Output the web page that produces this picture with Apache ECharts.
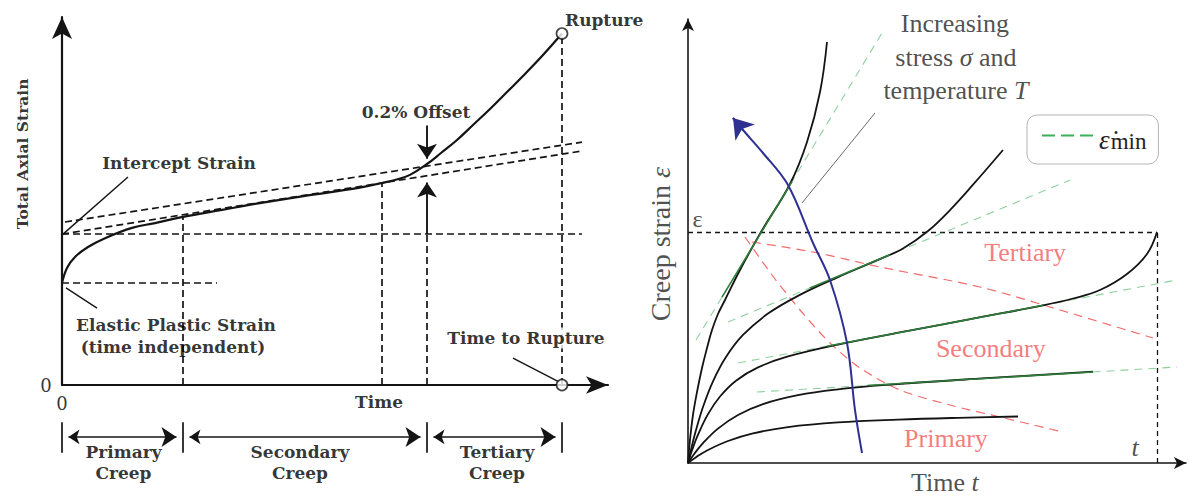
<!DOCTYPE html>
<html>
<head>
<meta charset="utf-8">
<script src="https://cdn.jsdelivr.net/npm/echarts@6/dist/echarts.min.js"></script>
<style>
  html, body { margin: 0; padding: 0; background: #fff; }
  #main { width: 1193px; height: 497px; }
</style>
</head>
<body>
<div id="main"></div>
<script>
// ===== Left diagram: total axial strain (0-100) against time (0-109.2) =====
const strainCurve = [[0,27.7],[1,31.8],[2.6,34.8],[5.2,37.5],[8.6,39.9],[14,42.7],[18.6,44],[24.2,45.7],
  [32,47.6],[38.6,49.2],[48.6,51.4],[59,53.5],[64,54.9],[66.6,55.7],[69.6,57.1],[73,60.05],
  [75.8,63.04],[79,66.58],[82.2,70.65],[85.6,75.0],[89,79.62],[92.2,83.97],[96.2,89.67],[100,95.5]];
const elasticStrain = 27.7;
const interceptStrain = 41;
const secondaryLine = [[0,41],[104,63.6]];
const offsetLine = [[0.6,44.3],[104,66]];
const stageBounds = [0, 24.2, 73, 100];      // primary | secondary | tertiary | rupture
const tangentEndTime = 64;
const ruptureTime = 100;
const ruptureStrain = 95.5;
const offsetArrowUp = [41, 55];
const offsetArrowDown = [70.5, 61.5];
const stageNames = ['Primary\nCreep', 'Secondary\nCreep', 'Tertiary\nCreep'];

// ===== Right diagram: creep strain (0-100) against time (0-100) =====
const creepCurves = [
  [[0,0],[1.61,1.31],[4.02,2.93],[8.03,4.95],[13.05,6.67],[20.08,8.09],[30.12,9.14],[42.17,9.77],
   [54.22,10.18],[66.27,10.47]],
  [[0,0],[1.2,1.98],[3.01,4.48],[6.02,7.75],[10.04,10.81],[15.06,13.27],[22.09,15.27],[30.12,16.58],
   [40.16,17.61],[58.23,18.99],[81.33,20.56]],
  [[0,0],[0.8,2.82],[2.01,6.37],[4.02,11.01],[6.43,14.98],[9.64,18.54],[14.06,21.53],[20.08,23.99],
   [30.12,26.67],[44.18,29.75],[58.23,32.73],[71.29,35.5],[77.31,37.05],[82.73,38.96],[88.15,42.57],
   [92.17,47.07],[94.18,52.03]],
  [[0,0],[0.6,3.0],[1.61,7.41],[3.01,12.61],[5.02,18.4],[7.63,23.87],[11.04,28.83],[16.06,33.65],
   [22.09,37.64],[30.12,41.87],[38.15,45.74],[43.17,48.31],[48.19,52.25],[52.61,56.98],[57.23,62.68],
   [63.25,70.5]],
  [[0,0],[0.4,5.18],[1,10.81],[1.81,15.99],[2.81,21.4],[3.82,25.9],[4.82,29.95],[6.02,33.56],[7.43,36.71],
   [10.44,43.47],[14.66,52.03],[20.48,62.84],[23.9,72.3],[26.51,83.56],[27.91,94.82]]
];
const minRateLines = [
  [[13.86,15.99],[98.19,21.62]],
  [[10.04,22.52],[98.19,41.22]],
  [[8.03,31.76],[76.71,63.74]],
  [[1.61,27.7],[38.96,96.85]]
];
const minRateSpans = [
  [[36,17.47],[81.33,20.49]],
  [[27.91,26.31],[71.29,35.51]],
  [[24.5,39.43],[40.56,46.91]],
  [[6.83,37.36],[20.88,63.37]]
];
const primaryBoundary = [[11.45,50.9],[16.87,42.34],[22.49,34.46],[28.51,27.03],[34.54,21.4],[42.57,16.44],
  [52.61,13.06],[62.65,10.36],[75.3,6.98]];
const tertiaryBoundary = [[12.85,49.77],[25.1,47.52],[38.55,44.14],[58.63,39.64],[74.7,34.46],[93.37,28.15]];
const loadingTrend = [[34.94,2.25],[33.53,11.94],[31.93,27.03],[28.51,41.22],[25.1,49.55],[20.08,62.61],
  [15.06,69.82],[11.04,75]];
const loadingTrendTip = [9.04,77.7];
const ruptureLevel = 52.03;
const ruptureTimeRight = 94.18;
const stageWords = ['Tertiary', 'Secondary', 'Primary'];

// ---------- helpers ----------
const LEFT = { xAxisIndex: 0, yAxisIndex: 0 };
const RIGHT = { xAxisIndex: 1, yAxisIndex: 1 };
const INK = '#141414';

function path(axes, data, color, width, type, smooth, z, name) {
  return Object.assign({
    type: 'line', name: name || undefined, data, symbol: 'none', showSymbol: false,
    smooth: smooth || false, silent: true, clip: false, animation: false,
    lineStyle: { color, width, type: type || 'solid', cap: 'butt' }, z: z || 2
  }, axes);
}
function segs(axes, list, color, width, type, arrows, size, z) {
  return Object.assign({
    type: 'lines', coordinateSystem: 'cartesian2d', silent: true, clip: false, animation: false,
    symbol: arrows || ['none', 'none'], symbolSize: size || 8,
    lineStyle: { color, width, type: type || 'solid', opacity: 1, curveness: 0 },
    data: list.map(c => ({ coords: c })), z: z || 2
  }, axes);
}
function notes(axes, items, base) {
  return Object.assign({
    type: 'scatter', silent: true, clip: false, animation: false, symbolSize: 1,
    itemStyle: { color: 'transparent' }, z: 10,
    label: Object.assign({ show: true, position: 'inside', formatter: p => p.name }, base),
    data: items.map(it => ({ name: it.text, value: it.at, label: it.label || {} }))
  }, axes);
}
const curveAt = t => strainCurve.find(p => p[0] === t)[1];

// ---------- left diagram marks ----------
const leftFont = { fontFamily: 'DejaVu Serif', fontWeight: 'bold', fontSize: 17, color: '#000' };
const dashL = [7, 4];
const leftSeries = [
  segs(LEFT, [
    [[0, interceptStrain], [104, interceptStrain]],
    [[0, elasticStrain], [31, elasticStrain]],
    [[stageBounds[1], 0], [stageBounds[1], curveAt(stageBounds[1])]],
    [[tangentEndTime, 0], [tangentEndTime, curveAt(tangentEndTime)]],
    [[stageBounds[2], 0], [stageBounds[2], interceptStrain]],
    [[ruptureTime, 0], [ruptureTime, ruptureStrain]]
  ], INK, 1.7, dashL),
  path(LEFT, secondaryLine, INK, 1.7, dashL),
  path(LEFT, offsetLine, INK, 1.7, dashL),
  path(LEFT, strainCurve, INK, 2.2, 'solid', 0.4, 4),
  segs(LEFT, [
    [[stageBounds[2], offsetArrowUp[0]], [stageBounds[2], offsetArrowUp[1]]],
    [[stageBounds[2], offsetArrowDown[0]], [stageBounds[2], offsetArrowDown[1]]]
  ], INK, 1.9, 'solid', ['none', 'arrow'], [11, 15], 5),
  // leader lines
  segs(LEFT, [
    [[13.2, 56.5], [0.2, 41]],
    [[7, 20.9], [0.8, 26.4]],
    [[90.2, 7.3], [99.2, 1]]
  ], INK, 1.4),
  // stage dimension row under the time axis
  segs(LEFT, stageBounds.map(t => [[t, -10.1], [t, -18.4]]), INK, 1.7),
  segs(LEFT, stageBounds.slice(0, 3).map((t, i) => [[t + 1.3, -14.1], [stageBounds[i + 1] - 1.3, -14.1]]),
    INK, 1.7, 'solid', ['arrow', 'arrow'], [11, 15]),
  Object.assign({
    type: 'scatter', silent: true, clip: false, animation: false, symbol: 'circle', symbolSize: 11,
    itemStyle: { color: '#fff', borderColor: INK, borderWidth: 1.7 }, z: 6,
    data: [[ruptureTime, ruptureStrain], [ruptureTime, 0]]
  }, LEFT),
  notes(LEFT, [
    { text: 'Total Axial Strain', at: [-8, 62.8], label: { rotate: 90, fontSize: 15.5 } },
    { text: 'Intercept Strain', at: [23.4, 60.3] },
    { text: 'Elastic Plastic Strain', at: [22.8, 16.3] },
    { text: '(time independent)', at: [22.2, 10.3] },
    { text: '0', at: [-3.2, 0], label: { fontWeight: 'normal', fontSize: 18 } },
    { text: '0', at: [0, -4.9], label: { fontWeight: 'normal', fontSize: 18 } },
    { text: 'Time', at: [63.4, -4.6] },
    { text: '0.2% Offset', at: [70.8, 74.2] },
    { text: 'Rupture', at: [100.6, 99.2], label: { align: 'left' } },
    { text: 'Time to Rupture', at: [92.8, 12.8], label: { backgroundColor: '#fff' } },
    { text: stageNames[0], at: [12.3, -21.1] },
    { text: stageNames[1], at: [47.6, -21.1] },
    { text: stageNames[2], at: [87, -21.1] }
  ], Object.assign({ lineHeight: 21, align: 'center' }, leftFont))
];

// ---------- right diagram marks ----------
const serif = 'Liberation Serif';
const redInk = '#f25a5a';
const rightSeries = [
  path(RIGHT, primaryBoundary, '#f36b6b', 1.2, [9, 6], 0.3),
  path(RIGHT, tertiaryBoundary, '#f36b6b', 1.2, [9, 6], 0.3),
  ...minRateLines.map(l => path(RIGHT, l, '#8ed19c', 1.1, [8, 6], false, 2, 'ε\u0307min')),
  ...creepCurves.map(c => path(RIGHT, c, INK, 1.8, 'solid', 0.4, 4)),
  segs(RIGHT, minRateSpans, '#2f7d3a', 1.6, 'solid', null, 8, 5),
  segs(RIGHT, [[[0, ruptureLevel], [ruptureTimeRight, ruptureLevel]], [[ruptureTimeRight, 0], [ruptureTimeRight, ruptureLevel]]],
    INK, 1.3, [5, 4]),
  path(RIGHT, loadingTrend.concat([loadingTrendTip]), '#2e3192', 2, 'solid', 0.35, 6),
  segs(RIGHT, [[loadingTrend[loadingTrend.length - 1], loadingTrendTip]], '#2e3192', 2, 'solid', ['none', 'arrow'], [14, 19], 6),
  segs(RIGHT, [[[22.89, 58.56], [37.55, 78.83]]], '#6a6a6a', 1),
  notes(RIGHT, [
    { text: 'ε', at: [1.9, 55.0], label: { formatter: '{s|ε}' } },
    { text: 'Creep strain ε', at: [-5.62, 49.3], label: { rotate: 90, formatter: '{c|Creep strain }{ci|ε}' } },
    { text: 'Time t', at: [51.6, -4.5], label: { formatter: '{a|Time }{i|t}' } },
    { text: 't', at: [89.8, 3.4], label: { formatter: '{i|t}' } },
    { text: 'Increasing', at: [53.6, 98.9] },
    { text: 'stress σ and', at: [53.8, 91.4], label: { formatter: '{a|stress }{i|σ}{a| and}' } },
    { text: 'temperature T', at: [53.8, 84.0], label: { formatter: '{a|temperature }{i|T}' } },
    { text: stageWords[0], at: [67.7, 47.3], label: { color: redInk } },
    { text: stageWords[1], at: [60.8, 25.9], label: { color: redInk } },
    { text: stageWords[2], at: [51.8, 5.6], label: { color: redInk } }
  ], {
    fontFamily: serif, fontSize: 26, color: '#222',
    rich: {
      a: { fontFamily: serif, fontSize: 26, color: '#222' },
      i: { fontFamily: serif, fontSize: 26, fontStyle: 'italic', color: '#222' },
      c: { fontFamily: serif, fontSize: 28, color: '#222' },
      ci: { fontFamily: serif, fontSize: 28, fontStyle: 'italic', color: '#222' },
      s: { fontFamily: serif, fontSize: 24, color: '#222' }
    }
  })
];

const hiddenAxis = (gridIndex, max, arrowSize, width) => ({
  gridIndex, type: 'value', min: 0, max,
  axisLine: { show: true, onZero: false, symbol: ['none', 'arrow'], symbolSize: arrowSize,
    lineStyle: { color: INK, width } },
  axisTick: { show: false }, axisLabel: { show: false }, splitLine: { show: false }
});

const chart = echarts.init(document.getElementById('main'), null, { renderer: 'svg' });
chart.setOption({
  animation: false,
  backgroundColor: '#fff',
  grid: [
    { left: 62, top: 17, width: 546, height: 368 },
    { left: 688, top: 19, width: 498, height: 444 }
  ],
  xAxis: [hiddenAxis(0, 109.2, [13, 22], 2.2), hiddenAxis(1, 100, [9, 12], 1.6)],
  yAxis: [hiddenAxis(0, 100, [15, 22], 2.2), hiddenAxis(1, 100, [9, 12], 1.6)],
  legend: {
    data: ['ε\u0307min'],
    left: 1027, top: 115,
    padding: [11, 12, 11, 14],
    backgroundColor: '#fff', borderColor: '#b5b5b5', borderWidth: 1, borderRadius: 10,
    itemWidth: 52, itemHeight: 14, itemGap: 6,
    selectedMode: false,
    itemStyle: { color: 'transparent', borderWidth: 0, opacity: 0 },
    lineStyle: { color: '#3bb25a', width: 2, type: [13, 6] },
    formatter: () => '{e|ε\u0307}{m|min}',
    textStyle: {
      rich: {
        e: { fontFamily: serif, fontSize: 27, fontStyle: 'italic', color: '#222', verticalAlign: 'bottom' },
        m: { fontFamily: serif, fontSize: 23, color: '#222', padding: [12, 0, 0, 1], verticalAlign: 'bottom' }
      }
    }
  },
  series: leftSeries.concat(rightSeries)
});
</script>
</body>
</html>
